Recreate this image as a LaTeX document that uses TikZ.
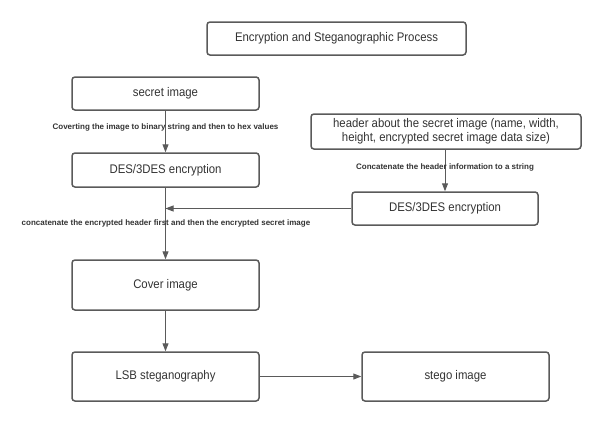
\documentclass[tikz,border=0pt]{standalone}
\usepackage{fontspec}
\setmainfont{Liberation Sans}
\newfontfamily\boxfont[FakeStretch=0.91]{Liberation Sans}
\usetikzlibrary{arrows.meta}

\definecolor{linegray}{HTML}{5A5A5A}
\definecolor{textgray}{HTML}{333333}

\begin{document}
\begin{tikzpicture}[x=1pt,y=-1pt,-{Triangle[length=8pt,width=6pt]},
                line width=1pt,draw=linegray,
                box/.style={rectangle,draw=linegray,line width=1.5pt,rounded corners=3pt,text=textgray,
                  font=\boxfont\fontsize{12.5}{13.5}\selectfont,minimum width=187,minimum height=33,align=center},
                note/.style={text=textgray,font=\fontsize{8}{9}\selectfont\bfseries}]

            \useasboundingbox (0,0) rectangle (601,423);

            \node[box, minimum width=259] (title) at (336.5,38.5) {Encryption and Steganographic Process};
            \node[box] (secret) at (165.5,93.5) {secret image};
            \node[box, minimum height=34] (des1) at (165.5,170) {DES/3DES encryption};
            \node[box, minimum width=270, minimum height=35] (header) at (446,131.5)
                {header about the secret image (name, width,\\ height, encrypted secret image data size)};
            \node[box, minimum width=186] (des2) at (445,208.5) {DES/3DES encryption};
            \node[box, minimum height=50] (cover) at (165.5,285) {Cover image};
            \node[box, minimum height=49] (lsb) at (165.5,376.5) {LSB steganography};
            \node[box, minimum height=49] (stego) at (455.5,376.5) {stego image};

            \coordinate (join) at (des1.south |- des2.west);

            \path
            (secret) edge (des1)
            (header.south -| des2.north) edge (des2)
            (des2) edge (join)
            (des1) edge[-] (join)
            (join) edge (cover)
            (cover) edge (lsb)
            (lsb) edge (stego);

            \node[note] (convert) at (165.5,127) {Coverting the image to binary string and then to hex values};
            \node[note] (concathead) at (445,167) {Concatenate the header information to a string};
            \node[note] (concatenc) at (166,223) {concatenate the encrypted header first and then the encrypted secret image};

        \end{tikzpicture}
\end{document}
